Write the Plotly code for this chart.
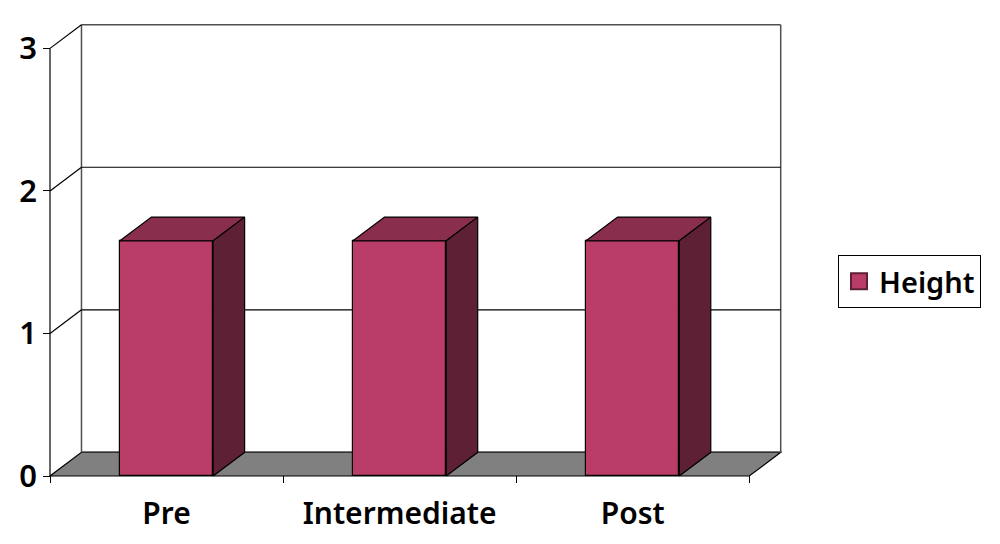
import plotly.graph_objects as go

categories = ["Pre", "Intermediate", "Post"]
heights = [1.65, 1.65, 1.65]
y_ticks = [0, 1, 2, 3]
series_name = "Height"

FRONT = "#BA3C68"
TOP = "#8A2E4E"
SIDE = "#5E2035"
FLOOR = "#808080"
WALL_LINE = "#505050"
FONT = "Noto Sans"

PAGE = 8                    # the page body offsets the figure by this many pixels
W, H = 1000 - PAGE, 544 - PAGE
X0, Y0 = 49.5 - PAGE, 476.5 - PAGE   # pixel of origin inside the figure
XU, YU = 233.2, 142.7       # pixels per category / per value
DX, DY = 31.5 / XU, 23.7 / YU   # oblique depth in data units
BAR_W = 0.4
TICK = 7
n = len(categories)
ymax = max(y_ticks)

fig = go.Figure()

# walls, floor, gridlines sit beneath the bars
def seg(xs, ys, color="black", width=1.0):
    fig.add_shape(type="line", xref="x", yref="y", x0=xs[0], x1=xs[1], y0=ys[0], y1=ys[1],
                  line=dict(color=color, width=width), layer="below")

path = f"M 0 0 L {n} 0 L {n+DX} {DY} L {DX} {DY} Z"
fig.add_shape(type="path", xref="x", yref="y", path=path, fillcolor=FLOOR,
              line=dict(color="black", width=1.2), layer="below")
seg([DX, n + DX], [DY, DY], "#303030", 1.5)
seg([DX, n + DX], [ymax + DY, ymax + DY], WALL_LINE, 1.5)
seg([DX, DX], [DY, ymax + DY], WALL_LINE, 1.5)
seg([n + DX, n + DX], [DY, ymax + DY], WALL_LINE, 1.5)
seg([0, 0], [0, ymax], "black", 1.2)
for t in y_ticks[1:]:
    seg([0, DX], [t, t + DY], "black", 1.2)
for t in y_ticks[1:-1]:
    seg([DX, n + DX], [t + DY, t + DY], "black", 1.2)

# front faces
centers = [i + 0.5 for i in range(n)]
fig.add_trace(go.Bar(x=centers, y=heights, width=BAR_W, name=series_name, showlegend=False,
                     marker=dict(color=FRONT, line=dict(color="black", width=1.2))))

# oblique faces derived from the values
for c, h in zip(centers, heights):
    l, r = c - BAR_W / 2, c + BAR_W / 2
    fig.add_trace(go.Scatter(x=[l, r, r + DX, l + DX, l], y=[h, h, h + DY, h + DY, h],
                             mode="lines", fill="toself", fillcolor=TOP, showlegend=False,
                             line=dict(color="black", width=1.2), hoverinfo="skip"))
    fig.add_trace(go.Scatter(x=[r, r + DX, r + DX, r, r], y=[0, DY, h + DY, h, 0],
                             mode="lines", fill="toself", fillcolor=SIDE, showlegend=False,
                             line=dict(color="black", width=1.2), hoverinfo="skip"))

# legend key
fig.add_trace(go.Scatter(x=[0.5], y=[-1], mode="markers", name=series_name, hoverinfo="skip",
                         marker=dict(symbol="square", size=20, color=FRONT,
                                     line=dict(color="#5E2035", width=2))))

left_px = X0 - TICK
bottom_px = Y0 + TICK
fig.update_layout(
    width=W, height=H, autosize=False,
    margin=dict(l=left_px, r=0, t=0, b=H - bottom_px, autoexpand=False, pad=0),
    paper_bgcolor="white", plot_bgcolor="white",
    showlegend=True,
    font=dict(family=FONT, color="black"),
    bargap=0,
    legend=dict(xref="container", yref="container", x=(838 - PAGE) / W, y=1 - (255 - PAGE) / H,
                xanchor="left", yanchor="top", bgcolor="white", bordercolor="black",
                borderwidth=1, font=dict(size=29, family=FONT, weight=600),
                itemwidth=30),
    xaxis=dict(range=[-TICK / XU, (W - X0) / XU], tickmode="array",
               tickvals=centers, ticktext=categories, ticks="", showgrid=False,
               zeroline=False, showline=False, ticklabelstandoff=10,
               tickfont=dict(size=30, family=FONT, weight=600),
               minor=dict(tickmode="array", tickvals=list(range(n + 1)), ticks="inside",
                          ticklen=TICK, tickwidth=1, tickcolor="black", showgrid=False)),
    yaxis=dict(range=[-TICK / YU, Y0 / YU], tickmode="array", tickvals=y_ticks,
               ticks="inside", ticklen=TICK, tickwidth=1, tickcolor="black",
               showgrid=False, zeroline=False, showline=False, ticklabelstandoff=5,
               tickfont=dict(size=31, family=FONT, weight=600)),
)

fig.write_html("out.html", config=dict(displayModeBar=False))
